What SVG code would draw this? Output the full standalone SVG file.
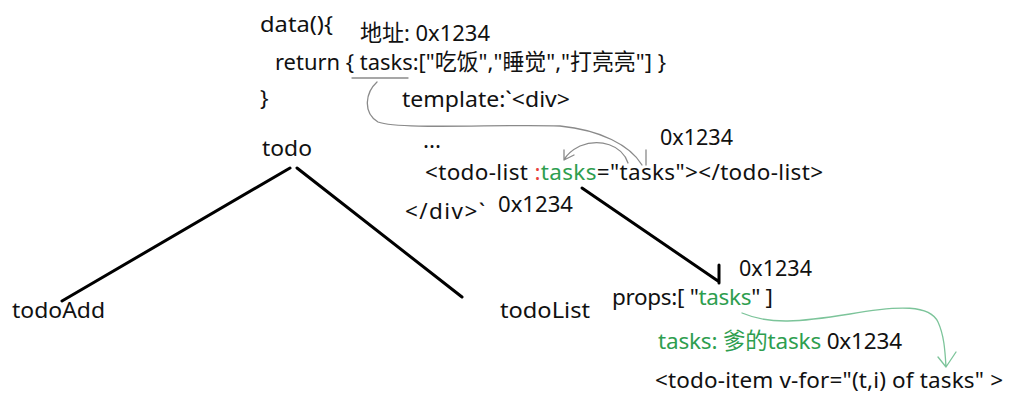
<svg xmlns="http://www.w3.org/2000/svg" width="1017" height="408" viewBox="0 0 1017 408">
<style>
text{font-family:"Noto Sans","Noto Sans CJK SC",sans-serif;font-size:22.5px;fill:#111}
.g{fill:#2e9e4f}
.r{fill:#e8403a}
.edge{stroke:#000;stroke-width:3;fill:none;stroke-linecap:round}
.pen{stroke:#8a8a8a;stroke-width:1.3;fill:none;stroke-linecap:round}
.pg{stroke:#7cc49a;stroke-width:1.3;fill:none;stroke-linecap:round}
</style>
<rect width="1017" height="408" fill="#fff"/>
<g id="data-block">
<text x="260" y="32" textLength="73" lengthAdjust="spacingAndGlyphs">data(){</text>
<text x="360" y="41" textLength="130" lengthAdjust="spacingAndGlyphs">地址: 0x1234</text>
<text x="275" y="70" textLength="391" lengthAdjust="spacingAndGlyphs">return { tasks:["吃饭","睡觉","打亮亮"] }</text>
<text x="260" y="106">}</text>
</g>
<g id="template-block">
<text x="402" y="107" textLength="168" lengthAdjust="spacingAndGlyphs">template:`&lt;div&gt;</text>
<text x="423" y="148">...</text>
<text x="425" y="180" textLength="398" lengthAdjust="spacing">&lt;todo-list <tspan class="r">:</tspan><tspan class="g">tasks</tspan>="tasks"&gt;&lt;/todo-list&gt;</text>
<text x="405" y="219" textLength="80" lengthAdjust="spacing">&lt;/div&gt;`</text>
<text x="660" y="145" textLength="73" lengthAdjust="spacingAndGlyphs">0x1234</text>
<text x="498" y="212" textLength="75" lengthAdjust="spacingAndGlyphs">0x1234</text>
</g>
<g id="todo"><text x="262" y="156" textLength="50" lengthAdjust="spacingAndGlyphs">todo</text></g>
<g id="todoAdd"><text x="12" y="318" textLength="93" lengthAdjust="spacingAndGlyphs">todoAdd</text></g>
<g id="todoList"><text x="500" y="318" textLength="90" lengthAdjust="spacingAndGlyphs">todoList</text></g>
<g id="props-block">
<text x="739" y="276" textLength="73" lengthAdjust="spacingAndGlyphs">0x1234</text>
<text x="612" y="305" textLength="161" lengthAdjust="spacing">props:[ "<tspan class="g">tasks</tspan>" ]</text>
<text x="658" y="349" textLength="244" lengthAdjust="spacing"><tspan class="g">tasks: 爹的tasks</tspan> 0x1234</text>
<text x="655" y="388" textLength="348" lengthAdjust="spacing">&lt;todo-item v-for="(t,i) of tasks" &gt;</text>
</g>
<g id="connectors">
<path class="edge" d="M290 168 L62 301"/>
<path class="edge" d="M297 168 L462 297"/>
<path class="edge" d="M582 188 L718 281 M719 265 L719 283"/>
<path class="pen" d="M352 78 L408 78"/>
<path class="pen" d="M377 82 C366 92 362 112 378 122 C400 130 500 124 560 126 C600 130 630 145 642 165 M646 150 L646 165"/>
<path class="pen" d="M628 163 C622 145 600 138 580 146 C572 150 567 154 564 160 M564 160 L564 150 M564 160 L574 155"/>
<path class="pg" d="M742 313 C770 325 800 322 850 314 C900 305 930 305 938 322 C944 335 945 350 946 367 M946 367 L938 357 M946 367 L956 352"/>
</g>
</svg>
